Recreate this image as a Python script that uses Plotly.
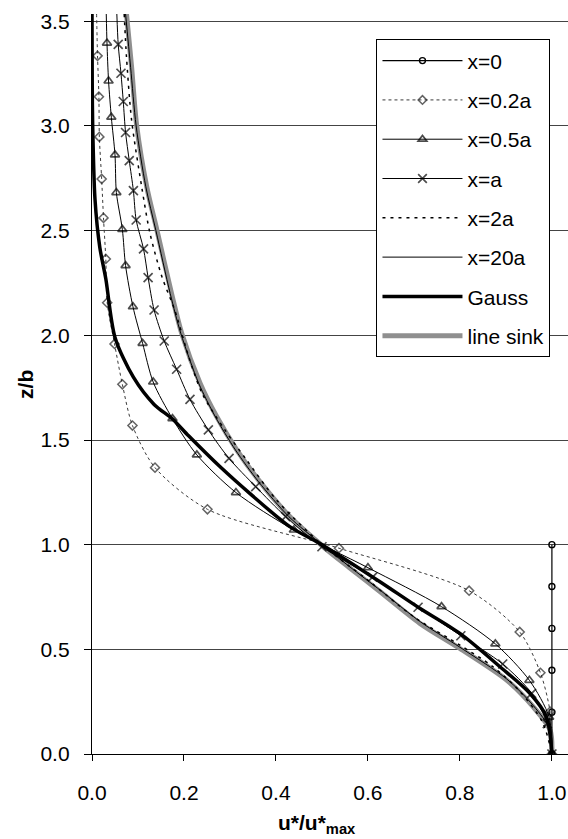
import plotly.graph_objects as go

# ---------------- data (u*/u*max , z/b) ----------------
x0_u = [1.0, 1.0, 1.0, 1.0, 1.0, 1.0]
x0_z = [0.0, 0.2, 0.4, 0.6, 0.8, 1.0]

x02a_u = [0.010, 0.012, 0.015, 0.016, 0.021, 0.025, 0.030, 0.033, 0.049, 0.066, 0.088, 0.137, 0.251, 0.537, 0.820, 0.930, 0.975, 0.996, 1.0]
x02a_z = [3.535, 3.335, 3.140, 2.948, 2.747, 2.561, 2.365, 2.156, 1.959, 1.766, 1.569, 1.368, 1.169, 0.983, 0.780, 0.583, 0.388, 0.202, 0.0]

x05a_u = [0.031, 0.0326, 0.036, 0.042, 0.050, 0.053, 0.066, 0.073, 0.089, 0.110, 0.133, 0.175, 0.228, 0.313, 0.439, 0.600, 0.760, 0.877, 0.951, 0.994, 1.0]
x05a_z = [3.535, 3.396, 3.215, 3.042, 2.862, 2.682, 2.506, 2.333, 2.137, 1.962, 1.777, 1.602, 1.429, 1.249, 1.070, 0.890, 0.704, 0.526, 0.352, 0.176, 0.0]

xa_u = [0.054, 0.057, 0.063, 0.068, 0.073, 0.081, 0.090, 0.096, 0.112, 0.122, 0.135, 0.157, 0.184, 0.213, 0.253, 0.298, 0.356, 0.421, 0.500, 0.610, 0.709, 0.802, 0.893, 0.956, 0.990, 1.0]
xa_z = [3.535, 3.390, 3.252, 3.117, 2.969, 2.835, 2.691, 2.551, 2.413, 2.276, 2.121, 1.973, 1.838, 1.694, 1.548, 1.412, 1.277, 1.134, 0.990, 0.845, 0.701, 0.565, 0.430, 0.290, 0.145, 0.0]

x2a_u = [0.070, 0.075, 0.086, 0.108, 0.126, 0.152, 0.180, 0.210, 0.240, 0.289, 0.336, 0.401, 0.500, 0.600, 0.700, 0.800, 0.870, 0.930, 0.980, 1.0]
x2a_z = [3.535, 3.330, 3.030, 2.710, 2.488, 2.280, 2.120, 1.900, 1.720, 1.548, 1.405, 1.214, 1.000, 0.830, 0.655, 0.520, 0.420, 0.300, 0.150, 0.0]

x20a_u = [0.073, 0.084, 0.096, 0.117, 0.139, 0.170, 0.193, 0.232, 0.268, 0.312, 0.362, 0.428, 0.500, 0.560, 0.628, 0.715, 0.800, 0.902, 0.960, 0.996, 1.0]
x20a_z = [3.535, 3.280, 3.000, 2.710, 2.500, 2.200, 2.010, 1.771, 1.612, 1.452, 1.301, 1.134, 1.000, 0.895, 0.780, 0.630, 0.510, 0.358, 0.230, 0.117, 0.0]

gauss_u = [0.0, 0.0005, 0.0015, 0.0065, 0.017, 0.030, 0.050, 0.090, 0.135, 0.175, 0.210, 0.278, 0.343, 0.430, 0.500, 0.626, 0.710, 0.800, 0.887, 0.952, 0.988, 1.0]
gauss_z = [3.535, 3.200, 3.000, 2.650, 2.420, 2.270, 1.990, 1.800, 1.670, 1.600, 1.520, 1.373, 1.245, 1.086, 1.000, 0.823, 0.700, 0.576, 0.417, 0.290, 0.178, 0.0]

sink_u = [0.075, 0.086, 0.097, 0.119, 0.141, 0.173, 0.195, 0.235, 0.271, 0.315, 0.365, 0.430, 0.503, 0.560, 0.626, 0.713, 0.800, 0.901, 0.959, 0.996, 1.0]
sink_z = [3.535, 3.284, 3.005, 2.710, 2.504, 2.200, 2.010, 1.771, 1.612, 1.452, 1.301, 1.134, 0.990, 0.890, 0.776, 0.624, 0.504, 0.354, 0.226, 0.115, 0.0]

y_ticks = [0.0, 0.5, 1.0, 1.5, 2.0, 2.5, 3.0, 3.5]
x_ticks = [0.0, 0.2, 0.4, 0.6, 0.8, 1.0]

FONT = "Arial, Liberation Sans, sans-serif"

fig = go.Figure()

def sizes(n, s):
    return [0] + [s] * (n - 1)

fig.add_trace(go.Scatter(
    x=sink_u, y=sink_z, name="line sink", mode="lines", legendrank=8, legendgroup="g8",
    line=dict(color="#8f8f8f", width=5, shape="spline", smoothing=0.8)))

fig.add_trace(go.Scatter(
    x=x0_u, y=x0_z, name="x=0", mode="lines+markers", legendrank=1, legendgroup="g1",
    line=dict(color="black", width=1.2),
    marker=dict(symbol="circle-open", size=6, color="black", line=dict(width=1.4, color="black"))))

fig.add_trace(go.Scatter(
    x=x02a_u, y=x02a_z, name="x=0.2a", mode="lines+markers", legendrank=2, legendgroup="g2",
    line=dict(color="#3a3a3a", width=1, dash="dot", shape="spline", smoothing=0.8),
    marker=dict(symbol="diamond-open", size=sizes(len(x02a_u), 7), color="#222222", line=dict(width=1.5, color="#222222"))))

fig.add_trace(go.Scatter(
    x=x05a_u, y=x05a_z, name="x=0.5a", mode="lines+markers", legendrank=3, legendgroup="g3",
    line=dict(color="black", width=1, shape="spline", smoothing=0.8),
    marker=dict(symbol="triangle-up-open", size=sizes(len(x05a_u), 8), color="black", line=dict(width=1.7, color="black"))))

fig.add_trace(go.Scatter(
    x=xa_u, y=xa_z, name="x=a", mode="lines+markers", legendrank=4, legendgroup="g4",
    line=dict(color="black", width=1, shape="spline", smoothing=0.8),
    marker=dict(symbol="x-thin-open", size=sizes(len(xa_u), 9), color="black", line=dict(width=1.7, color="black"))))

fig.add_trace(go.Scatter(
    x=x2a_u, y=x2a_z, name="x=2a", mode="lines", legendrank=5, legendgroup="g5",
    line=dict(color="black", width=1.5, dash="3px,5px", shape="spline", smoothing=0.8)))

fig.add_trace(go.Scatter(
    x=x20a_u, y=x20a_z, name="x=20a", mode="lines", legendrank=6, legendgroup="g6",
    line=dict(color="black", width=1, shape="spline", smoothing=0.8)))

fig.add_trace(go.Scatter(
    x=gauss_u, y=gauss_z, name="Gauss", mode="lines", legendrank=7, legendgroup="g7",
    line=dict(color="black", width=3.5, shape="spline", smoothing=0.8)))

fig.update_layout(
    width=568, height=839,
    margin=dict(l=92, r=0, t=14, b=85),
    paper_bgcolor="white", plot_bgcolor="white",
    font=dict(family=FONT, size=21, color="black"),
    showlegend=True,
    legend=dict(x=0.597, y=0.966, xanchor="left", yanchor="top",
                bgcolor="white", bordercolor="black", borderwidth=1.3,
                font=dict(family=FONT, size=21, color="black"),
                traceorder="grouped", tracegroupgap=9, itemwidth=80,
                entrywidth=100, entrywidthmode="pixels"),
    xaxis=dict(range=[0, 1.035], tickvals=x_ticks, tickformat=".1f",
               showgrid=False, zeroline=False, showline=True, linecolor="black", linewidth=1.3,
               ticks="outside", ticklen=6, tickcolor="black", ticklabelstandoff=14,
               tickfont=dict(family=FONT, size=21)),
    yaxis=dict(range=[0, 3.535], tickvals=y_ticks, tickformat=".1f",
               showgrid=True, gridcolor="#444444", gridwidth=1,
               zeroline=False, showline=True, linecolor="black", linewidth=1.3,
               ticks="outside", ticklen=7, tickcolor="black", ticklabelstandoff=10,
               tickfont=dict(family=FONT, size=21)),
    annotations=[
        dict(text="<b>z/b</b>", xref="paper", yref="paper", x=-0.141, y=0.5,
             xanchor="center", yanchor="middle",
             textangle=-90, showarrow=False, font=dict(family=FONT, size=21)),
        dict(text="<b>u*/u*<sub>max</sub></b>", xref="x", yref="paper", x=0.49, y=-0.094,
             xanchor="center", yanchor="middle",
             showarrow=False, font=dict(family=FONT, size=21)),
    ],
)

fig.write_html("out.html")
